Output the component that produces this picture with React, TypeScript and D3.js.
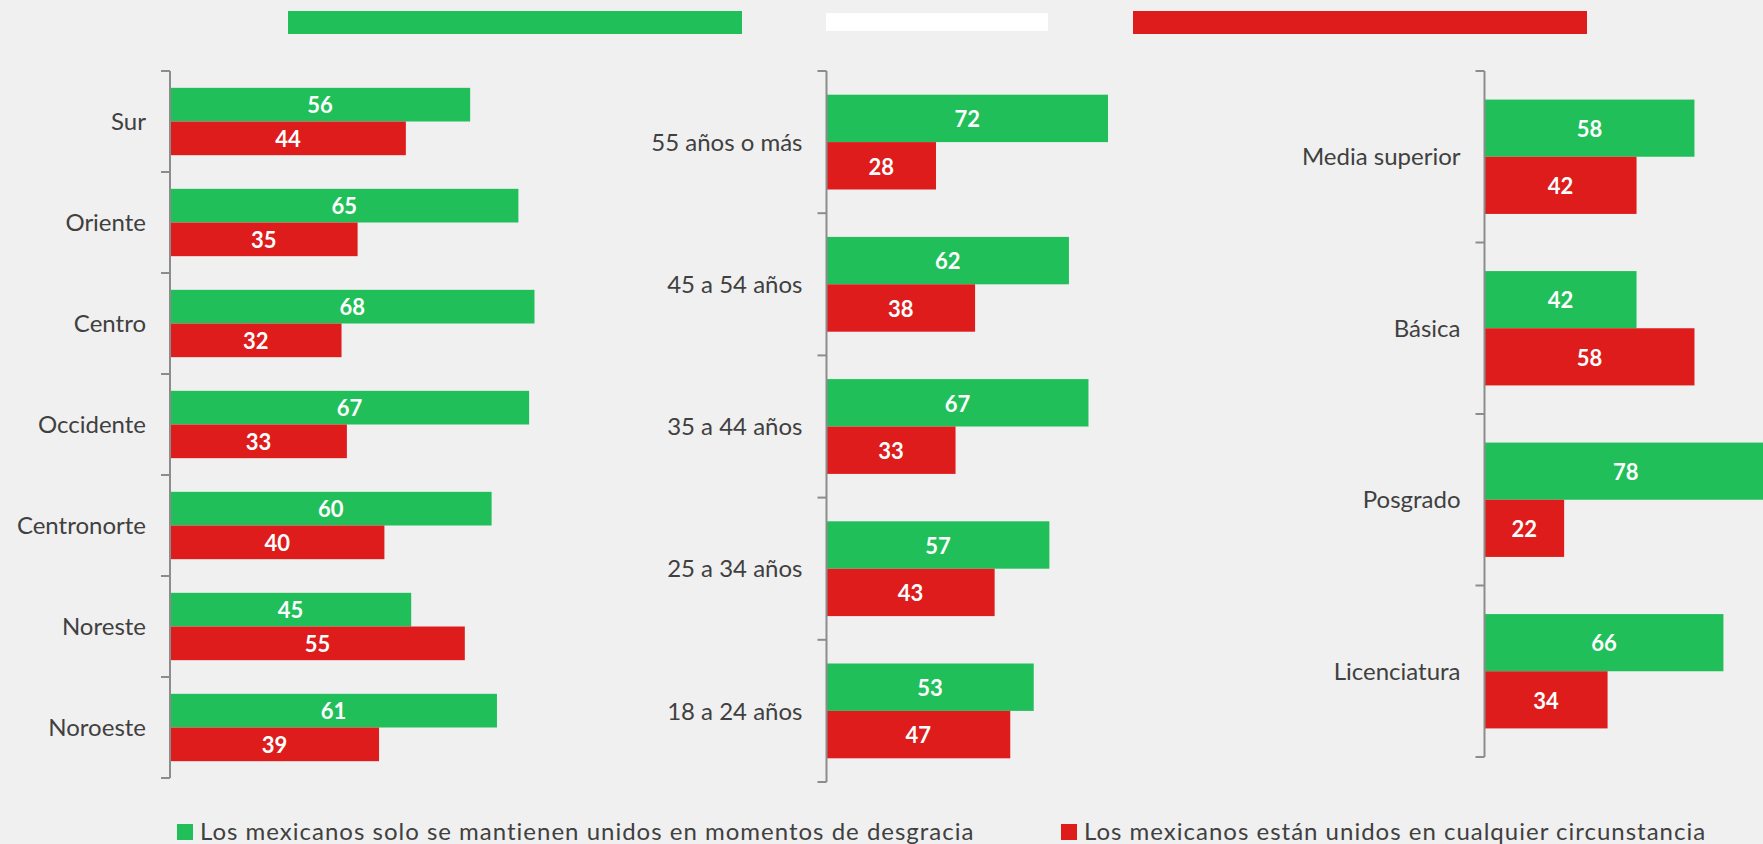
import React from 'react';
import * as d3 from 'd3';

// series names shown in the legend
const seriesNames = [
  'Los mexicanos solo se mantienen unidos en momentos de desgracia',
  'Los mexicanos están unidos en cualquier circunstancia',
];

// panel 1: region
const regionCats = ['Sur', 'Oriente', 'Centro', 'Occidente', 'Centronorte', 'Noreste', 'Noroeste'];
const regionGreen = [56, 65, 68, 67, 60, 45, 61];
const regionRed = [44, 35, 32, 33, 40, 55, 39];

// panel 2: age
const ageCats = ['55 años o más', '45 a 54 años', '35 a 44 años', '25 a 34 años', '18 a 24 años'];
const ageGreen = [72, 62, 67, 57, 53];
const ageRed = [28, 38, 33, 43, 47];

// panel 3: schooling
const eduCats = ['Media superior', 'Básica', 'Posgrado', 'Licenciatura'];
const eduGreen = [58, 42, 78, 66];
const eduRed = [42, 58, 22, 34];

const WIDTH = 1763;
const HEIGHT = 844;
const GREEN = '#21bf5a';
const RED = '#dd1c1b';
const AXIS = '#8c8c8c';
const TEXT = '#404040';
const FONT = "Lato, 'Open Sans', sans-serif";

type PanelProps = {
  cats: string[];
  green: number[];
  red: number[];
  x0: number; // axis position
  pxPer100: number; // width of 100 units
  top: number;
  bottom: number;
};

const Panel = ({ cats, green, red, x0, pxPer100, top, bottom }: PanelProps) => {
  const y = d3.scaleBand<string>().domain(cats).range([top, bottom]).padding(0);
  // two bars per category, centred in the band with 1/6 of it free on each side
  const sub = d3.scaleBand<string>()
    .domain(['g', 'r'])
    .range([0, y.step()])
    .paddingInner(0)
    .paddingOuter(0.5);
  const x = d3.scaleLinear().domain([0, 100]).range([x0, x0 + pxPer100]);

  const ticks = cats.map((c) => y(c) as number).concat([bottom]);

  return (
    <g>
      {cats.map((c, i) => {
        const by = y(c) as number;
        const rows = [
          { key: 'g', v: green[i], fill: GREEN },
          { key: 'r', v: red[i], fill: RED },
        ];
        return (
          <g key={c}>
            {rows.map((r) => (
              <React.Fragment key={r.key}>
                <rect
                  x={x(0)}
                  y={by + (sub(r.key) as number)}
                  width={x(r.v) - x(0)}
                  height={sub.bandwidth()}
                  fill={r.fill}
                />
                <text
                  x={(x(0) + x(r.v)) / 2}
                  y={by + (sub(r.key) as number) + sub.bandwidth() / 2}
                  dy="0.4em"
                  textAnchor="middle"
                  fill="#fff"
                  fontWeight="bold"
                  fontSize={22}
                >
                  {r.v}
                </text>
              </React.Fragment>
            ))}
            <text
              x={x0 - 24}
              y={by + y.bandwidth() / 2}
              dy="0.36em"
              textAnchor="end"
              fill={TEXT}
              fontSize={24}
            >
              {c}
            </text>
          </g>
        );
      })}
      <line x1={x0} x2={x0} y1={top} y2={bottom} stroke={AXIS} strokeWidth={2} />
      {ticks.map((t, i) => (
        <line key={i} x1={x0 - 9} x2={x0} y1={t} y2={t} stroke={AXIS} strokeWidth={2} />
      ))}
    </g>
  );
};

export default function App() {
  const legendColors = [GREEN, RED];
  const legendX = [177, 1061];

  return (
    <svg
      width={WIDTH}
      height={HEIGHT}
      style={{ position: 'absolute', left: 0, top: 0, background: '#f0f0f0' }}
      fontFamily={FONT}
    >
      <rect width={WIDTH} height={HEIGHT} fill="#f0f0f0" />

      {/* header strips */}
      <rect x={288} y={11} width={454} height={23} fill={GREEN} />
      <rect x={826} y={13} width={222} height={18} fill="#ffffff" />
      <rect x={1133} y={11} width={454} height={23} fill={RED} />

      <Panel cats={regionCats} green={regionGreen} red={regionRed} x0={170} pxPer100={536} top={71} bottom={778} />
      <Panel cats={ageCats} green={ageGreen} red={ageRed} x0={826.5} pxPer100={391} top={71} bottom={782} />
      <Panel cats={eduCats} green={eduGreen} red={eduRed} x0={1484.5} pxPer100={362} top={71} bottom={757} />

      {seriesNames.map((name, i) => (
        <g key={name} transform={`translate(${legendX[i]},824)`}>
          <rect width={16} height={16} fill={legendColors[i]} />
          <text x={23} y={16} fill={TEXT} fontSize={24} letterSpacing={1}>{name}</text>
        </g>
      ))}
    </svg>
  );
}
